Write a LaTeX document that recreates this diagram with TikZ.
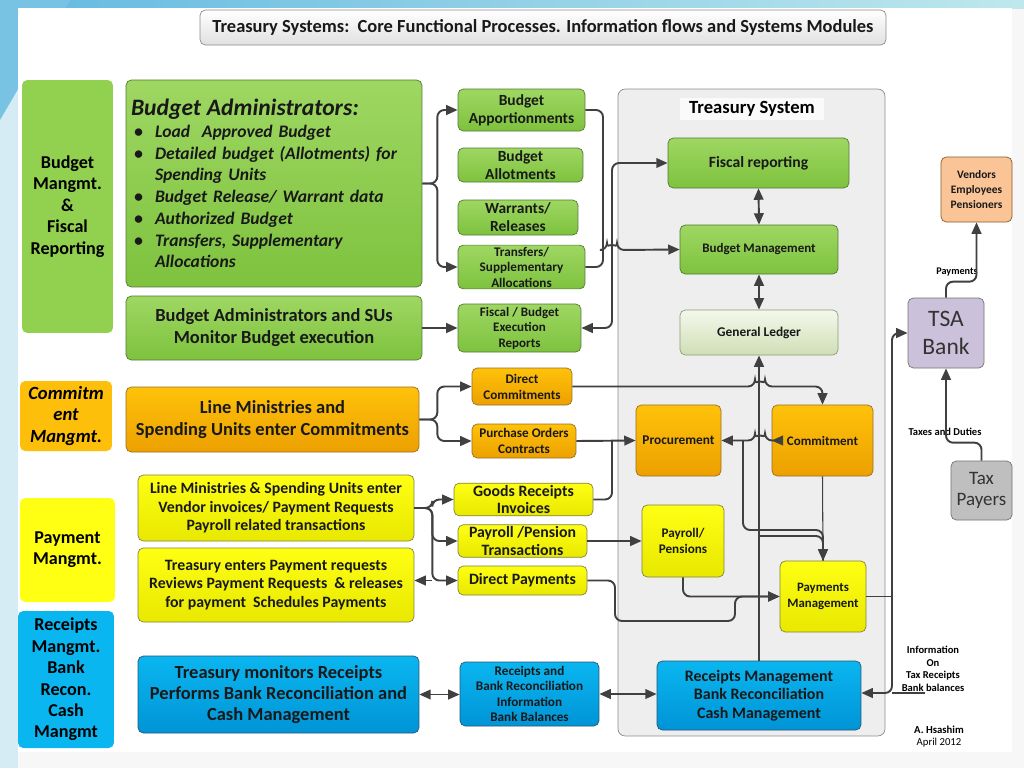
\documentclass[tikz,border=0pt]{standalone}
\usepackage{fontspec}
\setmainfont{Carlito}
\usetikzlibrary{arrows.meta,calc,positioning,shapes}
\definecolor{grntop}{RGB}{158,215,98}
\definecolor{grnbot}{RGB}{126,194,62}
\definecolor{grnline}{RGB}{84,120,52}
\definecolor{grnflat}{RGB}{146,208,80}
\definecolor{orgtop}{RGB}{255,194,10}
\definecolor{orgbot}{RGB}{236,160,0}
\definecolor{orgline}{RGB}{150,110,40}
\definecolor{ylwtop}{RGB}{255,255,20}
\definecolor{ylwbot}{RGB}{232,232,0}
\definecolor{ylwline}{RGB}{130,130,60}
\definecolor{blutop}{RGB}{10,182,240}
\definecolor{blubot}{RGB}{0,148,214}
\definecolor{bluline}{RGB}{40,85,115}
\definecolor{arrgray}{RGB}{64,64,64}
\definecolor{tsysfill}{RGB}{238,238,238}
\definecolor{glTop}{RGB}{244,248,236}
\definecolor{glBot}{RGB}{208,222,182}
\definecolor{vendfill}{RGB}{250,196,150}
\definecolor{tsafill}{RGB}{204,193,218}
\definecolor{taxfill}{RGB}{191,191,191}
\definecolor{frameblue}{RGB}{214,236,245}
\definecolor{bandleft}{RGB}{100,185,225}
\definecolor{bandright}{RGB}{190,232,236}
\definecolor{cornerblue}{RGB}{120,195,228}
\newcommand{\sz}[2]{\fontsize{#1}{#2}\selectfont}
\newcommand{\bitem}{\makebox[0.48cm][l]{\hspace{0.06cm}\textbullet}}

\begin{document}
\begin{tikzpicture}[x=0.02cm,y=-0.02cm,
  box/.style={draw, rounded corners=3pt, align=center, inner sep=1pt, text=black!90},
  grn/.style={box, draw=grnline, top color=grntop, bottom color=grnbot},
  org/.style={box, draw=orgline, top color=orgtop, bottom color=orgbot},
  ylw/.style={box, draw=ylwline, top color=ylwtop, bottom color=ylwbot},
  blu/.style={box, draw=bluline, top color=blutop, bottom color=blubot},
  cat/.style={rounded corners=3pt, align=center, inner sep=0pt},
  lbl/.style={align=center, inner sep=0pt},
  line/.style={draw=arrgray, line width=1.1pt, rounded corners=4pt},
  flow/.style={line, -{Triangle[length=6.5pt,width=5.5pt]}},
  dflow/.style={line, {Triangle[length=6.5pt,width=5.5pt]}-{Triangle[length=6.5pt,width=5.5pt]}}]
\useasboundingbox (0,0) rectangle (1024,768);
\fill[black!3] (0,0) rectangle (1024,768);
\fill[frameblue] (0,0) rectangle (18,768);
\shade[left color=bandleft, right color=bandright] (0,0) rectangle (1024,8);
\fill[cornerblue] (0,0) -- (70,0) -- (0,120) -- cycle;
\fill[white] (18,8) rectangle (1012,752);

\draw (543,27.5) node (title) [box, draw=black!45, top color=white, bottom color=black!12, minimum width=13.72cm, minimum height=0.7cm, font=\bfseries\sz{10.5}{12}] {Treasury Systems:\ \ Core Functional Processes. Information flows and Systems Modules};

\draw (67.5,206.5) node (lbudget) [cat, fill=grnflat, minimum width=1.82cm, minimum height=5.06cm, font=\bfseries\sz{10.3}{12.2}] {Budget\\Mangmt.\\\&\\Fiscal\\Reporting};
\draw (66,416) node (lcommit) [cat, fill=orgtop!90!orgbot, minimum width=1.84cm, minimum height=1.4cm, font=\bfseries\itshape\sz{10.6}{12.2}] {Commitm\\ent\\Mangmt.};
\draw (67.5,550) node (lpay) [cat, fill=ylwtop, minimum width=1.9cm, minimum height=2.08cm, font=\bfseries\sz{10.3}{12}] {Payment\\Mangmt.};
\draw (66,679.5) node (lrcpt) [cat, fill=blutop, minimum width=1.92cm, minimum height=2.74cm, font=\bfseries\sz{10.3}{12.2}] {Receipts\\Mangmt.\\Bank\\Recon.\\Cash\\Mangmt};

\draw (274,183.5) node (badmin) [grn, align=left, text width=5.72cm, inner xsep=0.1cm, minimum width=5.92cm, minimum height=4.14cm, font=\bfseries\itshape\sz{10}{12.4}] {{\sz{13.4}{12.4}Budget Administrators:}\\
\bitem Load\ \ Approved Budget\\
\bitem Detailed budget (Allotments) for\\
\hspace*{0.48cm}Spending Units\\
\bitem Budget Release/ Warrant data\\
\bitem Authorized Budget\\
\bitem Transfers, Supplementary\\
\hspace*{0.48cm}Allocations};
\draw (274,328) node (monitor) [grn, minimum width=5.92cm, minimum height=1.28cm, font=\bfseries\sz{10.5}{12.5}] {Budget Administrators and SUs\\Monitor Budget execution};
\draw (272.5,419.5) node (lmcommit) [org, minimum width=5.86cm, minimum height=1.3cm, font=\bfseries\sz{10.5}{12.5}] {Line Ministries and\\Spending Units enter Commitments};
\draw (276,508) node (lmenter) [ylw, minimum width=5.52cm, minimum height=1.32cm, font=\bfseries\sz{9}{10.6}] {Line Ministries \& Spending Units enter\\Vendor invoices/ Payment Requests\\Payroll related transactions};
\draw (276,585) node (trpay) [ylw, minimum width=5.52cm, minimum height=1.48cm, font=\bfseries\sz{9}{10.5}] {Treasury enters Payment requests\\Reviews Payment Requests\ \ \& releases\\for payment\ \ Schedules Payments};
\draw (278.5,694.5) node (trmon) [blu, minimum width=5.62cm, minimum height=1.54cm, font=\bfseries\sz{10.5}{12}] {Treasury monitors Receipts\\Performs Bank Reconciliation and\\Cash Management};

\draw (521.5,110) node (apport) [grn, minimum width=2.54cm, minimum height=0.84cm, font=\bfseries\sz{8.8}{10.2}] {Budget\\Apportionments};
\draw (520.5,165) node (allot) [grn, minimum width=2.5cm, minimum height=0.68cm, font=\bfseries\sz{8.8}{10.2}] {Budget\\Allotments};
\draw (518,217.5) node (warr) [grn, minimum width=2.4cm, minimum height=0.7cm, font=\bfseries\sz{8.8}{10.2}] {Warrants/\\Releases};
\draw (521.5,267) node (transf) [grn, minimum width=2.54cm, minimum height=0.76cm, font=\bfseries\sz{7.5}{8.8}] {Transfers/\\Supplementary\\Allocations};
\draw (519.5,328) node (fbreport) [grn, minimum width=2.46cm, minimum height=0.96cm, font=\bfseries\sz{7.4}{8.8}] {Fiscal / Budget\\Execution\\Reports};
\draw (522,386.5) node (dcommit) [org, minimum width=2cm, minimum height=0.74cm, font=\bfseries\sz{7.5}{9.1}] {Direct\\Commitments};
\draw (524,441) node (porder) [org, minimum width=2.08cm, minimum height=0.68cm, font=\bfseries\sz{7.5}{9.1}] {Purchase Orders\\Contracts};
\draw (523.5,499.5) node (goods) [ylw, minimum width=2.78cm, minimum height=0.58cm, font=\bfseries\sz{9}{10.2}] {Goods Receipts\\Invoices};
\draw (522.5,541) node (paytrans) [ylw, minimum width=2.58cm, minimum height=0.56cm, font=\bfseries\sz{9}{10.2}] {Payroll /Pension\\Transactions};
\draw (522.5,580.5) node (dpay) [ylw, minimum width=2.58cm, minimum height=0.58cm, font=\bfseries\sz{9}{10.2}] {Direct Payments};
\draw (529.5,694) node (rcpinfo) [blu, minimum width=2.78cm, minimum height=1.28cm, font=\bfseries\sz{7.5}{8.8}] {Receipts and\\Bank Reconciliation\\Information\\Bank Balances};

\draw (751.5,412.5) node (tsys) [draw=black!45, fill=tsysfill, rounded corners=4pt, minimum width=5.34cm, minimum height=12.94cm] {};
\draw (752,109) node (tslabel) [fill=white!70!tsysfill, minimum width=2.9cm, minimum height=0.44cm, inner sep=0pt, font=\bfseries\sz{10.6}{12}] {Treasury System};
\draw (758.5,163) node (fiscrep) [grn, minimum width=3.62cm, minimum height=1cm, font=\bfseries\sz{8.9}{10}] {Fiscal reporting};
\draw (759,249.5) node (budmgmt) [grn, minimum width=3.16cm, minimum height=0.98cm, font=\bfseries\sz{7.4}{8}] {Budget Management};
\draw (759,332.5) node (gledger) [box, draw=grnline!70, top color=glTop, bottom color=glBot, minimum width=3.16cm, minimum height=0.9cm, font=\bfseries\sz{7.6}{8}] {General Ledger};
\draw (678.5,440.5) node (procure) [org, minimum width=1.7cm, minimum height=1.42cm, font=\bfseries\sz{7.6}{8}] {Procurement};
\draw (822.5,440.5) node (commit) [org, minimum width=2.02cm, minimum height=1.42cm, font=\bfseries\sz{7.4}{8}] {Commitment};
\draw (683,541) node (payroll) [ylw, minimum width=1.64cm, minimum height=1.44cm, font=\bfseries\sz{7.5}{9.1}] {Payroll/\\Pensions};
\draw (823,596.5) node (paymgmt) [ylw, minimum width=1.72cm, minimum height=1.42cm, font=\bfseries\sz{7.3}{8.8}] {Payments\\Management};
\draw (759,695.5) node (rcpmgmt) [blu, minimum width=4.08cm, minimum height=1.38cm, font=\bfseries\sz{9.1}{10.5}] {Receipts Management\\Bank Reconciliation\\Cash Management};

\draw (976.5,189.5) node (vendors) [box, draw=brown!70!black, fill=vendfill, minimum width=1.42cm, minimum height=1.3cm, font=\bfseries\sz{6.5}{8.8}] {Vendors\\Employees\\Pensioners};
\draw (946,333) node (tsa) [box, draw=black!55, fill=tsafill, minimum width=1.52cm, minimum height=1.4cm, font=\sz{13.4}{16.3}, text=black!80] {TSA\\Bank};
\draw (981.5,490.5) node (taxpay) [box, draw=black!55, fill=taxfill, minimum width=1.22cm, minimum height=1.18cm, font=\sz{10.8}{12}, text=black!80] {Tax\\Payers};
\draw (957,272) node (lblpay) [lbl, font=\bfseries\sz{5.8}{7}] {Payments};
\draw (945,432) node (lbltax) [lbl, font=\bfseries\sz{6}{7}] {Taxes and Duties};
\draw (933,669) node (lblinfo) [lbl, font=\bfseries\sz{6}{7.1}] {Information\\On\\Tax Receipts\\Bank balances};
\draw (939,737) node (author) [lbl, font=\sz{6.1}{6.9}] {\textbf{A. Hsashim}\\April 2012};

\coordinate (jbud) at (603,250);
\coordinate (jgoods) at (612,441);
\coordinate (jinfo) at (925,693);

\draw[flow] (badmin.east) -- ++(15,0) |- (apport.west);
\draw[flow] (badmin.east) -- ++(15,0) |- (transf.west);
\draw[line] (apport.east) -| (jbud);
\draw[line] (transf.east) -| (jbud);
\draw[flow] (jbud) -- (607,250) arc[start angle=180, end angle=360, radius=5] -- (budmgmt.west);
\draw[dflow] (fiscrep.west) -| (612,328) -- (fbreport.east);
\draw[flow] (monitor.east) -- (fbreport.west);
\draw[dflow] (fiscrep.south) -- (budmgmt.north);
\draw[dflow] (budmgmt.south) -- (gledger.north);

\draw[flow] (lmcommit.east) -- ++(18,0) |- (dcommit.west);
\draw[flow] (lmcommit.east) -- ++(18,0) |- (porder.west);
\draw[flow] (dcommit.east) -- (755,386.5) arc[start angle=180, end angle=360, radius=5] -| (commit.north);
\draw[flow] (porder.east) -- (procure.west);
\draw[line] (goods.east) -| (jgoods);
\draw[dflow] (procure.east) -- (755,440.5) arc[start angle=180, end angle=360, radius=5] -- (commit.west);
\draw[flow] (743,440.5) -- (743,530) -| (paymgmt.north);
\draw[line] (760,536) -| (paymgmt.north);
\draw[flow, line width=0.6pt] (commit.south) -- (paymgmt.north);

\draw[flow] (lmenter.east) -- ++(18,0) |- (goods.west);
\draw[flow] (lmenter.east) -- ++(18,0) |- (paytrans.west);
\draw[flow] (lmenter.east) -- ++(18,0) |- (dpay.west);
\draw[flow] (432,580.5) -- (trpay.east |- dpay.west);
\draw[flow] (paytrans.east) -- (payroll.west);
\draw[flow] (payroll.south) |- (paymgmt.west);
\draw[flow] (dpay.east) -- (615,580.5) -- (615,621) -- (735,621) -- (735,596.5) -- (paymgmt.west);
\draw[flow, line width=1.3pt] (rcpmgmt.north) -- (gledger.south);

\draw[line, line width=0.6pt] (paymgmt.east) -- (892,596.5);
\draw[dflow] (tsa.west) -| (892,693) -- (rcpmgmt.east |- jinfo);
\draw[line, line width=0.6pt] (jinfo) -- (892,693);
\draw[flow] (tsa.north) -- ++(0,-16) -| (vendors.south);
\draw[flow] (taxpay.north) -- ++(0,-18) -| (tsa.south);

\draw[dflow] (trmon.east) -- (trmon.east -| rcpinfo.west);
\draw[dflow] (rcpinfo.east) -- (rcpmgmt.west |- rcpinfo.east);
\end{tikzpicture}
\end{document}
